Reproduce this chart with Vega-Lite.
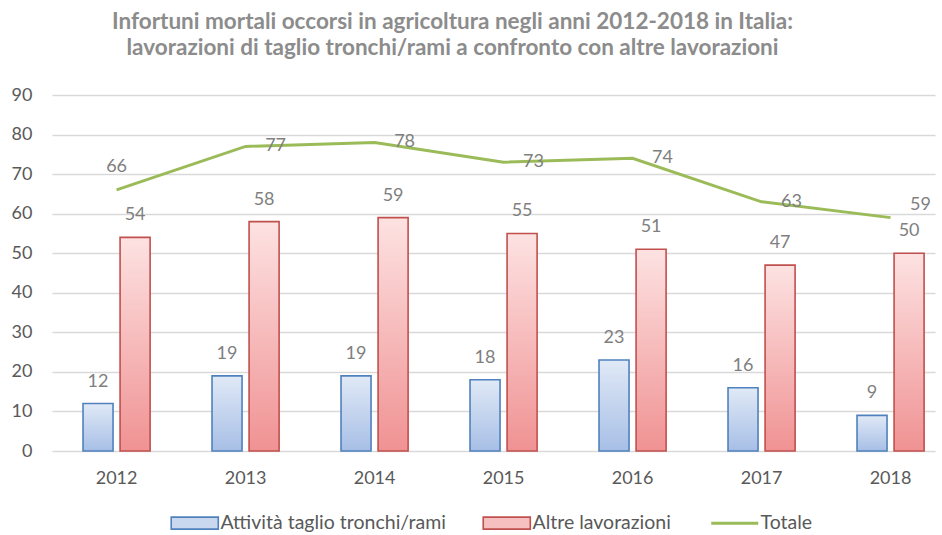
{
  "$schema": "https://vega.github.io/schema/vega-lite/v6.json",
  "autosize": {"type": "none"},
  "width": 883,
  "height": 356,
  "padding": {"left": 52, "top": 95, "right": 7, "bottom": 84},
  "background": "white",
  "title": {
    "text": ["Infortuni mortali occorsi in agricoltura negli anni 2012-2018 in Italia:", "lavorazioni di taglio tronchi/rami a confronto con altre lavorazioni"],
    "anchor": "middle",
    "dx": -41,
    "offset": 27,
    "font": "Lato",
    "fontSize": 22.5,
    "fontWeight": "bold",
    "color": "#8c8c8c",
    "lineHeight": 26
  },
  "config": {
    "view": {"stroke": null},
    "font": "Lato"
  },
  "data": {
    "values": [
      {"year": "2012", "series": "Attività taglio tronchi/rami", "value": 12},
      {"year": "2013", "series": "Attività taglio tronchi/rami", "value": 19},
      {"year": "2014", "series": "Attività taglio tronchi/rami", "value": 19},
      {"year": "2015", "series": "Attività taglio tronchi/rami", "value": 18},
      {"year": "2016", "series": "Attività taglio tronchi/rami", "value": 23},
      {"year": "2017", "series": "Attività taglio tronchi/rami", "value": 16},
      {"year": "2018", "series": "Attività taglio tronchi/rami", "value": 9},
      {"year": "2012", "series": "Altre lavorazioni", "value": 54},
      {"year": "2013", "series": "Altre lavorazioni", "value": 58},
      {"year": "2014", "series": "Altre lavorazioni", "value": 59},
      {"year": "2015", "series": "Altre lavorazioni", "value": 55},
      {"year": "2016", "series": "Altre lavorazioni", "value": 51},
      {"year": "2017", "series": "Altre lavorazioni", "value": 47},
      {"year": "2018", "series": "Altre lavorazioni", "value": 50},
      {"year": "2012", "series": "Totale", "value": 66},
      {"year": "2013", "series": "Totale", "value": 77},
      {"year": "2014", "series": "Totale", "value": 78},
      {"year": "2015", "series": "Totale", "value": 73},
      {"year": "2016", "series": "Totale", "value": 74},
      {"year": "2017", "series": "Totale", "value": 63},
      {"year": "2018", "series": "Totale", "value": 59}
    ]
  },
  "encoding": {
    "x": {
      "field": "year",
      "type": "nominal",
      "title": null,
      "scale": {"paddingInner": 0.48, "paddingOuter": 0.1625, "align": 0.74},
      "axis": {
        "labelAngle": 0,
        "labelFontSize": 18,
        "labelColor": "#595959",
        "labelPadding": 18,
        "ticks": false,
        "domain": false,
        "grid": false
      }
    },
    "y": {
      "field": "value",
      "type": "quantitative",
      "title": null,
      "scale": {"domain": [0, 90], "nice": false},
      "axis": {
        "values": [0, 10, 20, 30, 40, 50, 60, 70, 80, 90],
        "labelFontSize": 18,
        "labelColor": "#595959",
        "labelPadding": 20,
        "ticks": false,
        "domain": false,
        "gridColor": "#d9d9d9",
        "gridWidth": 1.3
      }
    }
  },
  "layer": [
    {
      "transform": [{"filter": "datum.series === 'Attività taglio tronchi/rami'"}],
      "mark": {
        "type": "bar",
        "strokeWidth": 1.6,
        "fill": {"x1": 0, "y1": 0, "x2": 0, "y2": 1, "gradient": "linear", "stops": [{"offset": 0, "color": "#e0e9f6"}, {"offset": 1, "color": "#a7bfe6"}]}
      },
      "encoding": {
        "xOffset": {"field": "series", "type": "nominal", "scale": {"domain": ["Attività taglio tronchi/rami", "Altre lavorazioni"], "paddingInner": 0.19, "paddingOuter": 0}},
        "stroke": {
          "field": "series",
          "type": "nominal",
          "scale": {"domain": ["Attività taglio tronchi/rami", "Altre lavorazioni", "Totale"], "range": ["#4f81bd", "#c0504d", "#9bbb59"]},
          "legend": {
            "title": null,
            "orient": "none",
            "direction": "horizontal",
            "legendX": 133,
            "legendY": 418,
            "columnPadding": 34,
            "labelOffset": 16,
            "labelFontSize": 19.5,
            "labelColor": "#595959",
            "labelLimit": 400,
            "symbolSize": 144,
            "encode": {
              "symbols": {
                "update": {
                  "shape": {"signal": "datum.value === 'Totale' ? 'M-3.92,0H3.92' : 'M-3.92,-1H3.92V1H-3.92Z'"},
                  "fill": {"signal": "datum.value === 'Totale' ? 'transparent' : (datum.value === 'Altre lavorazioni' ? '#f6c0c0' : '#c9d8ef')"},
                  "strokeWidth": {"signal": "datum.value === 'Totale' ? 3 : 1.6"}
                }
              }
            }
          }
        }
      }
    },
    {
      "transform": [{"filter": "datum.series === 'Altre lavorazioni'"}],
      "mark": {
        "type": "bar",
        "strokeWidth": 1.6,
        "fill": {"x1": 0, "y1": 0, "x2": 0, "y2": 1, "gradient": "linear", "stops": [{"offset": 0, "color": "#fde2e2"}, {"offset": 1, "color": "#f09293"}]}
      },
      "encoding": {
        "xOffset": {"field": "series", "type": "nominal"},
        "stroke": {
          "field": "series",
          "type": "nominal",
          "legend": {
            "title": null,
            "orient": "none",
            "direction": "horizontal",
            "legendX": 133,
            "legendY": 418,
            "columnPadding": 34,
            "labelOffset": 16,
            "labelFontSize": 19.5,
            "labelColor": "#595959",
            "labelLimit": 400,
            "symbolSize": 144,
            "encode": {
              "symbols": {
                "update": {
                  "shape": {"signal": "datum.value === 'Totale' ? 'M-3.92,0H3.92' : 'M-3.92,-1H3.92V1H-3.92Z'"},
                  "fill": {"signal": "datum.value === 'Totale' ? 'transparent' : (datum.value === 'Altre lavorazioni' ? '#f6c0c0' : '#c9d8ef')"},
                  "strokeWidth": {"signal": "datum.value === 'Totale' ? 3 : 1.6"}
                }
              }
            }
          }
        }
      }
    },
    {
      "transform": [{"filter": "datum.series === 'Totale'"}],
      "mark": {"type": "line", "strokeWidth": 3},
      "encoding": {
        "stroke": {
          "field": "series",
          "type": "nominal",
          "legend": {
            "title": null,
            "orient": "none",
            "direction": "horizontal",
            "legendX": 133,
            "legendY": 418,
            "columnPadding": 34,
            "labelOffset": 16,
            "labelFontSize": 19.5,
            "labelColor": "#595959",
            "labelLimit": 400,
            "symbolSize": 144,
            "encode": {
              "symbols": {
                "update": {
                  "shape": {"signal": "datum.value === 'Totale' ? 'M-3.92,0H3.92' : 'M-3.92,-1H3.92V1H-3.92Z'"},
                  "fill": {"signal": "datum.value === 'Totale' ? 'transparent' : (datum.value === 'Altre lavorazioni' ? '#f6c0c0' : '#c9d8ef')"},
                  "strokeWidth": {"signal": "datum.value === 'Totale' ? 3 : 1.6"}
                }
              }
            }
          }
        }
      }
    },
    {
      "transform": [{"filter": "datum.series !== 'Totale'"}],
      "mark": {"type": "text", "baseline": "middle", "dy": -22, "fontSize": 18, "fill": "#7f7f7f"},
      "encoding": {
        "xOffset": {"field": "series", "type": "nominal"},
        "text": {"field": "value", "type": "quantitative"}
      }
    },
    {
      "transform": [{"filter": "datum.series === 'Totale' && datum.year !== '2012' && datum.year !== '2018'"}],
      "mark": {"type": "text", "baseline": "middle", "dx": 30, "fontSize": 18, "fill": "#7f7f7f"},
      "encoding": {
        "text": {"field": "value", "type": "quantitative"}
      }
    },
    {
      "transform": [{"filter": "datum.series === 'Totale' && datum.year === '2012'"}],
      "mark": {"type": "text", "baseline": "middle", "dy": -23, "fontSize": 18, "fill": "#7f7f7f"},
      "encoding": {
        "text": {"field": "value", "type": "quantitative"}
      }
    },
    {
      "transform": [{"filter": "datum.series === 'Totale' && datum.year === '2018'"}],
      "mark": {"type": "text", "baseline": "middle", "dx": 30, "dy": -13, "fontSize": 18, "fill": "#7f7f7f"},
      "encoding": {
        "text": {"field": "value", "type": "quantitative"}
      }
    }
  ]
}
